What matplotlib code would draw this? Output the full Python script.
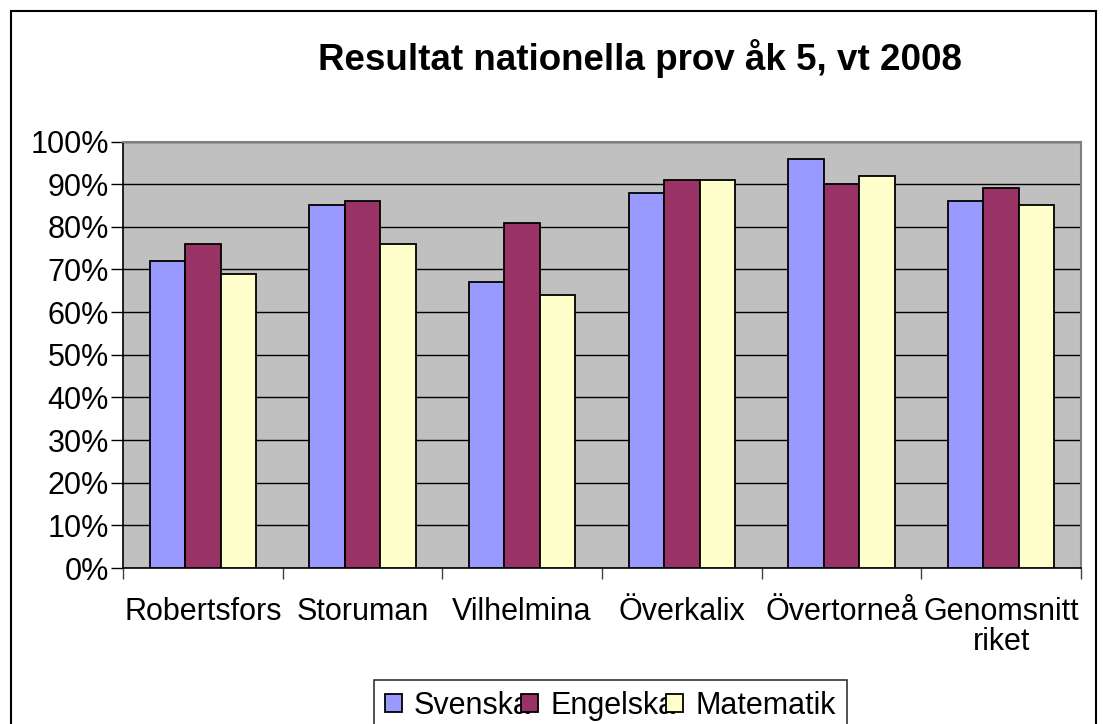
import matplotlib
matplotlib.use("Agg")
import matplotlib.pyplot as plt
import numpy as np
from matplotlib.patches import Rectangle

categories = ["Robertsfors", "Storuman", "Vilhelmina", "Överkalix", "Övertorneå", "Genomsnitt\nriket"]
series_names = ["Svenska", "Engelska", "Matematik"]
svenska = [72, 85, 67, 88, 96, 86]
engelska = [76, 86, 81, 91, 90, 89]
matematik = [69, 76, 64, 91, 92, 85]
yticks = [0, 10, 20, 30, 40, 50, 60, 70, 80, 90, 100]
ytick_labels = ["0%", "10%", "20%", "30%", "40%", "50%", "60%", "70%", "80%", "90%", "100%"]
title = "Resultat nationella prov åk 5, vt 2008"

colors = ["#9999FF", "#993366", "#FFFFCC"]

plt.rcParams['font.family'] = ['Liberation Sans', 'DejaVu Sans']

W, H = 1103, 724
fig = plt.figure(figsize=(W / 100, H / 100), dpi=100)

# figure border (bottom is cut off)
fig.patches.append(Rectangle((10.5 / W, -0.05), (1096 - 10.5) / W, 1.05 - 10.5 / H,
                             transform=fig.transFigure, fill=False,
                             edgecolor='black', linewidth=1.5, zorder=0))

ax = fig.add_axes([123 / W, 1 - 568 / H, (1081 - 123) / W, (568 - 141.5) / H])
ax.set_facecolor('#C0C0C0')

n = len(categories)
x = np.arange(n)
bw = 1 / 4.5
data = [svenska, engelska, matematik]
for i, (vals, col, name) in enumerate(zip(data, colors, series_names)):
    ax.bar(x + (i - 1) * bw, vals, width=bw, color=col, edgecolor='black',
           linewidth=1.3, label=name, zorder=3)

ax.set_xlim(-0.5, n - 0.5)
ax.set_ylim(0, 100)
ax.set_yticks(yticks)
ax.set_yticklabels(ytick_labels, fontsize=22)
ax.yaxis.grid(True, color='black', linewidth=1.0, zorder=1)
ax.set_axisbelow(True)

# x ticks at category boundaries, labels at centers
ax.set_xticks(np.arange(-0.5, n, 1.0))
ax.set_xticklabels([''] * (n + 1))
ax.set_xticks(x, minor=True)
ax.set_xticklabels(categories, minor=True, fontsize=22, linespacing=1.0)
ax.tick_params(axis='x', which='minor', length=0, pad=21)
ax.tick_params(axis='x', which='major', length=8, width=1, color='#404040')
ax.tick_params(axis='y', length=9, width=1, pad=1)

for s in ['left', 'bottom']:
    ax.spines[s].set_color('black')
    ax.spines[s].set_linewidth(1.2)
for s in ['top', 'right']:
    ax.spines[s].set_color('#808080')
    ax.spines[s].set_linewidth(1.5)

fig.text(640 / W, 1 - 70 / H, title, fontsize=26.5, fontweight='bold',
         ha='center', va='baseline')

leg = fig.legend(loc='upper left', bbox_to_anchor=(374 / W, 1 - 680 / H), ncol=3,
                 fontsize=22, frameon=True, fancybox=False, edgecolor='black',
                 handlelength=0.55, handleheight=0.55, handletextpad=0.4,
                 columnspacing=-0.3, borderpad=0.35, borderaxespad=0)
leg.get_frame().set_linewidth(1.2)

fig.savefig('out.png', dpi=100)
